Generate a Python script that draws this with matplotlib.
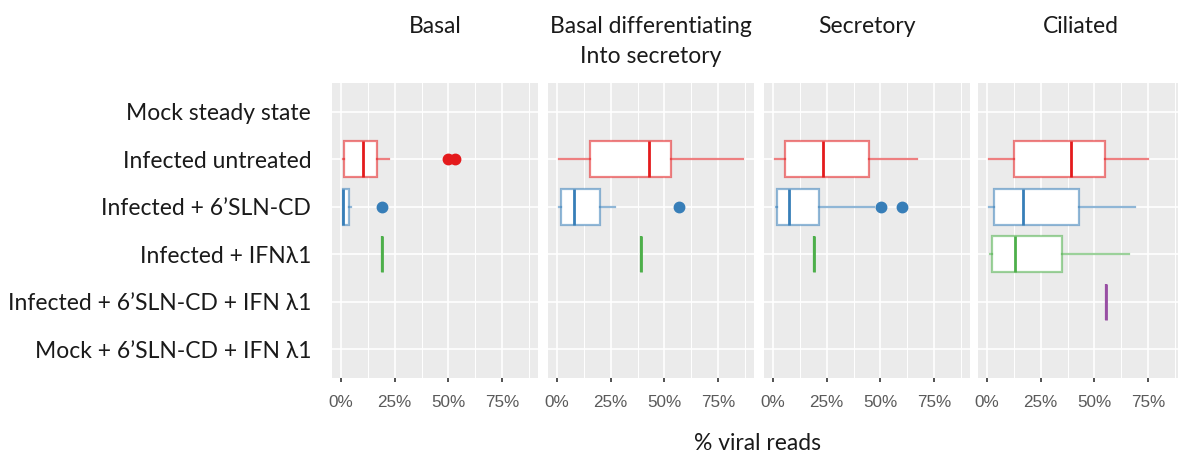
import numpy as np
import matplotlib
matplotlib.use("Agg")
import matplotlib.pyplot as plt
from matplotlib.ticker import FixedLocator, PercentFormatter

# categories (top to bottom)
conditions = [
    "Mock steady state",
    "Infected untreated",
    "Infected + 6\u2019SLN-CD",
    "Infected + IFN\u03bb1",
    "Infected + 6\u2019SLN-CD + IFN \u03bb1",
    "Mock + 6\u2019SLN-CD + IFN \u03bb1",
]
cell_types = ["Basal", "Basal differentiating\nInto secretory", "Secretory", "Ciliated"]

# colour per condition (Set1)
cond_colors = {1: "#E41A1C", 2: "#377EB8", 3: "#4DAF4A", 4: "#984EA3"}

# box stats per panel: condition index -> (whislo, q1, med, q3, whishi, fliers), in %
basal = {
    1: (0.9, 1.7, 10.6, 17.0, 22.4, [50.0, 53.0]),
    2: (0.9, 0.9, 0.9, 3.8, 5.0, [19.4]),
    3: (19.4, 19.4, 19.4, 19.4, 19.4, []),
}
basal_diff = {
    1: (1.2, 15.3, 42.9, 53.1, 86.5, []),
    2: (1.2, 1.8, 8.0, 20.3, 27.1, [56.8]),
    3: (38.9, 38.9, 38.9, 38.9, 38.9, []),
}
secretory = {
    1: (1.2, 5.8, 23.3, 44.8, 66.7, []),
    2: (1.5, 2.1, 7.6, 21.3, 47.0, [50.3, 60.2]),
    3: (19.2, 19.2, 19.2, 19.2, 19.2, []),
}
ciliated = {
    1: (1.1, 12.6, 39.0, 54.8, 74.7, []),
    2: (1.1, 3.5, 16.8, 42.8, 68.8, []),
    3: (1.5, 2.3, 13.1, 34.8, 66.0, []),
    4: (55.4, 55.4, 55.4, 55.4, 55.4, []),
}
panels = [basal, basal_diff, secretory, ciliated]

x_ticks = [0, 25, 50, 75]
x_minor = [12.5, 37.5, 62.5, 87.5]

W, H = 1178, 455
fig = plt.figure(figsize=(W / 100, H / 100), dpi=100)

lefts = [332, 548, 764, 978]
pw = 206
top, bottom = 83, 378
label_font = ["Lato", "DejaVu Sans"]
fs = 16.5

n = len(conditions)
ypos = {i: n - i for i in range(n)}  # first condition at top

for k, (data, title) in enumerate(zip(panels, cell_types)):
    ax = fig.add_axes([lefts[k] / W, 1 - bottom / H, pw / W, (bottom - top) / H])
    ax.set_facecolor("#EBEBEB")
    for s in ax.spines.values():
        s.set_visible(False)

    for ci, vals in data.items():
        lo, q1, med, q3, hi, fl = vals
        col = cond_colors[ci]
        light = matplotlib.colors.to_rgba(col, 0.55)
        stats = [dict(whislo=lo, q1=q1, med=med, q3=q3, whishi=hi, fliers=fl)]
        res = ax.bxp(stats, positions=[ypos[ci]], widths=0.75, vert=False,
                     showcaps=False, patch_artist=True,
                     boxprops=dict(facecolor="white", edgecolor=light, linewidth=1.6),
                     whiskerprops=dict(color=light, linewidth=1.6),
                     medianprops=dict(color=col, linewidth=2.0),
                     flierprops=dict(marker="o", markerfacecolor=col,
                                     markeredgecolor=col, markersize=7.5))
        if q1 == q3:
            # single value: only a vertical stroke
            res["boxes"][0].set_edgecolor(col)

    ax.set_xlim(-4, 91.5)
    ax.set_ylim(0.4, n + 0.6)
    ax.xaxis.set_major_locator(FixedLocator(x_ticks))
    ax.xaxis.set_minor_locator(FixedLocator(x_minor))
    ax.xaxis.set_major_formatter(PercentFormatter(decimals=0))
    ax.set_yticks([ypos[i] for i in range(n)])
    ax.grid(which="major", color="white", linewidth=1.2)
    ax.grid(which="minor", axis="x", color="white", linewidth=0.7)
    ax.set_axisbelow(True)
    ax.tick_params(axis="x", which="major", length=3, width=1.2, color="#333333",
                   labelcolor="#5a5a5a", labelsize=12.3, pad=9)
    ax.tick_params(axis="x", which="minor", length=0)
    for t in ax.get_xticklabels():
        t.set_fontfamily("Liberation Sans")
    ax.tick_params(axis="y", length=0, pad=15)
    if k == 0:
        ax.set_yticklabels(conditions, fontsize=fs, family=label_font, color="#1a1a1a")
    else:
        ax.set_yticklabels([])

    cx = (lefts[k] + pw / 2) / W
    for j, line in enumerate(title.split("\n")):
        fig.text(cx, 1 - (33 + 30 * j) / H, line, ha="center", va="baseline",
                 fontsize=fs, family=label_font, color="#1a1a1a")

fig.text(758 / W, 1 - 450 / H, "% viral reads", ha="center", va="baseline",
         fontsize=fs, family=label_font, color="#1a1a1a")

fig.savefig("out.png", dpi=100)
